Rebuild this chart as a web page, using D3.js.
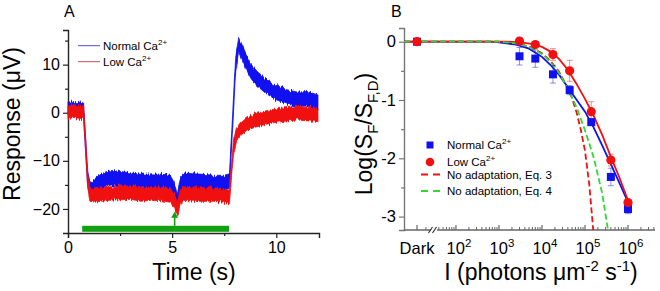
<!DOCTYPE html>
<html>
<head>
<meta charset="utf-8">
<script src="https://cdn.jsdelivr.net/npm/d3@7"></script>
<style>
  body { margin: 0; background: #fff; }
  text { font-family: "Liberation Sans", Arial, sans-serif; fill: #000; }
</style>
</head>
<body>
<svg id="fig" width="660" height="291"></svg>
<script>
// ---- Panel A: ERG traces (time in s, response in uV)
const timeNormal = [0, 0.3, 0.6, 0.75, 0.85, 0.95, 1.05, 1.2, 1.5, 1.8, 2.1, 2.5, 3.0, 3.5, 4.0, 4.5, 4.9, 5.1, 5.25, 5.4, 5.6, 6.0, 6.5, 7.0, 7.5, 7.75, 7.9, 8.05, 8.2, 8.5, 8.8, 9.1, 9.5, 10.0, 10.5, 11.0, 11.5, 12.0];
const respNormal = [0.8, 0.6, 0.7, 0.5, -7, -14, -16, -15.5, -14.5, -13.8, -13.5, -13.7, -14, -14.3, -14.2, -14.3, -14.5, -16, -18.5, -15, -14, -14.2, -14.3, -14.5, -14.5, -14.2, -2, 10, 14, 11, 8.5, 7, 5.5, 4.2, 3.3, 2.8, 2.9, 2.2];
const timeLow = [0, 0.3, 0.6, 0.75, 0.85, 0.95, 1.05, 1.3, 1.6, 2.0, 2.5, 3.0, 3.5, 4.0, 4.5, 4.9, 5.1, 5.25, 5.4, 5.6, 6.0, 6.5, 7.0, 7.5, 7.75, 7.85, 7.95, 8.1, 8.3, 8.6, 9.0, 9.5, 10.0, 10.5, 11.0, 11.5, 12.0];
const respLow = [0, 0.2, 0, 0, -7, -14.5, -17, -17.2, -17, -16.8, -16.7, -16.6, -17, -16.8, -16.9, -17.2, -18.3, -20, -17.5, -16.8, -17, -17, -17, -17.2, -17.5, -12, -7, -4.5, -3.3, -2.2, -1.6, -1, -0.6, -0.3, -0.1, -0.3, -0.4];
const noiseNormal = 1.5;
const noiseLow = 1.4;
const stimOn = 0.68, stimOff = 7.73, flashTime = 5.12;

// ---- Panel B: log(SF/SF,D) vs intensity
const darkI = 12.4; // where "Dark" sits on the log axis
const intensities = [3000, 7000, 1.8e4, 4.4e4, 1.4e5, 4e5, 1e6];
const normalMean = [-0.25, -0.29, -0.56, -0.83, -1.38, -2.32, -2.87];
const normalErr = [0.15, 0.15, 0.15, 0.08, 0.05, 0.15, 0.08];
const lowMean = [0.01, -0.05, -0.22, -0.5, -1.2, -2.03, -2.76];
const lowErr = [0.03, 0.04, 0.1, 0.18, 0.17, 0.1, 0.05];

// fitted curves, [log10 I, value]
const fitNormal = [[0.79, 0], [2.8, 0], [3.0, -0.01], [3.4, -0.05], [3.7, -0.12], [4.0, -0.26], [4.2, -0.4], [4.4, -0.57], [4.6, -0.78], [4.8, -0.99], [5.0, -1.2], [5.2, -1.47], [5.4, -1.78], [5.6, -2.1], [5.8, -2.42], [6.0, -2.75]];
const fitLow = [[0.79, 0], [3.2, 0], [3.5, -0.01], [3.8, -0.04], [4.0, -0.09], [4.2, -0.17], [4.4, -0.3], [4.6, -0.48], [4.8, -0.72], [5.0, -0.98], [5.2, -1.27], [5.4, -1.6], [5.6, -1.97], [5.8, -2.33], [6.0, -2.72]];
const eq3 = [[0.79, 0], [3.0, 0], [3.4, -0.03], [3.7, -0.08], [4.0, -0.2], [4.2, -0.33], [4.4, -0.52], [4.6, -0.8], [4.7, -0.97], [4.8, -1.2], [4.9, -1.5], [5.0, -1.87], [5.1, -2.45], [5.2, -3.3]];
const eq4 = [[0.79, 0], [3.0, 0], [3.4, -0.03], [3.7, -0.09], [4.0, -0.21], [4.2, -0.35], [4.4, -0.54], [4.6, -0.8], [4.8, -1.12], [5.0, -1.52], [5.2, -1.98], [5.4, -2.6], [5.55, -3.3]];

const blue = "#1010f0", red = "#f01010", green = "#30d830";

const svg = d3.select("#fig");

// noise look for the traces (vertical jitter only)
const defs = svg.append("defs");
const filt = defs.append("filter").attr("id", "noisy")
  .attr("color-interpolation-filters", "sRGB")
  .attr("x", "-5%").attr("y", "-10%").attr("width", "110%").attr("height", "120%");
filt.append("feTurbulence").attr("type", "fractalNoise")
  .attr("baseFrequency", "0.7 0.03").attr("numOctaves", 2).attr("seed", 3).attr("result", "t");
filt.append("feColorMatrix").attr("in", "t").attr("type", "matrix")
  .attr("values", "0 0 0 0 0.5  0 1 0 0 0  0 0 1 0 0  0 0 0 0 1").attr("result", "t2");
filt.append("feDisplacementMap").attr("in", "SourceGraphic").attr("in2", "t2")
  .attr("scale", 7).attr("xChannelSelector", "R").attr("yChannelSelector", "G");

function styleAxis(g, size, color) {
  g.attr("font-family", null).attr("font-size", size);
  g.select(".domain").attr("stroke", color).attr("stroke-width", 1.4);
  g.selectAll(".tick line").attr("stroke", color).attr("stroke-width", 1.2);
  g.selectAll(".tick text").attr("fill", "#000");
}

// ================= Panel A =================
const xA = d3.scaleLinear().domain([0, 12.05]).range([68, 319]);
const yA = d3.scaleLinear().domain([-25, 17.2]).range([233, 30]);

const gxA = svg.append("g").attr("transform", "translate(0,233)")
  .call(d3.axisBottom(xA).tickValues([0, 5, 10]).tickSize(5).tickPadding(4).tickFormat(d3.format("d")));
styleAxis(gxA, 16, "#222");
const gxAm = svg.append("g").attr("transform", "translate(0,233)")
  .call(d3.axisBottom(xA).tickValues([2.5, 7.5]).tickSize(3).tickFormat(""));
styleAxis(gxAm, 16, "#222");
gxAm.select(".domain").remove();

const gyA = svg.append("g").attr("transform", "translate(68,0)")
  .call(d3.axisLeft(yA).tickValues([-20, -10, 0, 10]).tickSize(5).tickPadding(3));
styleAxis(gyA, 16, "#222");
const gyAm = svg.append("g").attr("transform", "translate(68,0)")
  .call(d3.axisLeft(yA).tickValues([-15, -5, 5, 15]).tickSize(3).tickFormat(""));
styleAxis(gyAm, 16, "#222");
gyAm.select(".domain").remove();

function band(ts, vs, noise) {
  const pts = ts.map((t, i) => ({ t: t, v: vs[i] }));
  return d3.area().x(d => xA(d.t)).y0(d => yA(d.v - noise)).y1(d => yA(d.v + noise))(pts);
}
svg.append("path").attr("d", band(timeNormal, respNormal, noiseNormal))
  .attr("fill", blue).attr("stroke", blue).attr("stroke-width", 0.8).attr("filter", "url(#noisy)");
svg.append("path").attr("d", band(timeLow, respLow, noiseLow))
  .attr("fill", red).attr("stroke", red).attr("stroke-width", 0.8).attr("filter", "url(#noisy)");

// stimulus bar and flash arrow
svg.append("rect")
  .attr("x", xA(stimOn)).attr("width", xA(stimOff) - xA(stimOn))
  .attr("y", yA(-23.5)).attr("height", yA(-24.75) - yA(-23.5))
  .attr("fill", "#10a010");
svg.append("line")
  .attr("x1", xA(flashTime)).attr("x2", xA(flashTime))
  .attr("y1", yA(-23.5)).attr("y2", yA(-21.4))
  .attr("stroke", "#10a010").attr("stroke-width", 1.6);
svg.append("path")
  .attr("d", `M${xA(flashTime)},${yA(-20.6)} l-3.5,6 l7,0 Z`)
  .attr("fill", "#10a010");

// legend A
const legA = [["Normal Ca", "#5050c8", 45.7], ["Low Ca", "#c85050", 61.7]];
legA.forEach(d => {
  svg.append("line").attr("x1", 78).attr("x2", 100).attr("y1", d[2]).attr("y2", d[2])
    .attr("stroke", d[1]).attr("stroke-width", 1);
  const t = svg.append("text").attr("x", 103).attr("y", d[2] + 4).attr("font-size", 11.5);
  t.append("tspan").text(d[0]);
  t.append("tspan").attr("dy", -5).attr("font-size", 8).text("2+");
});

svg.append("text").attr("x", 64).attr("y", 17).attr("font-size", 16).text("A");
svg.append("text").attr("x", 194).attr("y", 280).attr("text-anchor", "middle")
  .attr("font-size", 23).text("Time (s)");
svg.append("text").attr("transform", "translate(20,124) rotate(-90)")
  .attr("text-anchor", "middle").attr("font-size", 23).text("Response (\u03BCV)");

// ================= Panel B =================
const xB = d3.scaleLog().domain([6.18, 4.25e6]).range([404, 655]);
const yB = d3.scaleLinear().domain([-3.23, 0.235]).range([230, 28]);

defs.append("clipPath").attr("id", "clipB").append("rect")
  .attr("x", 404).attr("y", 28).attr("width", 251).attr("height", 202);

const gyB = svg.append("g").attr("transform", "translate(404,0)")
  .call(d3.axisLeft(yB).tickValues([0, -1, -2, -3]).tickSize(5).tickPadding(3).tickFormat(d => d === 0 ? "0" : "-" + Math.abs(d)));
styleAxis(gyB, 16.5, "#777");
const gyBm = svg.append("g").attr("transform", "translate(404,0)")
  .call(d3.axisLeft(yB).tickValues([-0.5, -1.5, -2.5]).tickSize(3).tickFormat(""));
styleAxis(gyBm, 16, "#777");
gyBm.select(".domain").remove();

// x axis with log ticks, pointing inward
const decades = [2, 3, 4, 5, 6];
const minorB = [];
for (let d = 1; d <= 6; d++) {
  for (let m = 2; m <= 9; m++) {
    const v = m * Math.pow(10, d);
    if (v > 6.18 && v < 4.25e6 && Math.abs(xB(v) - 434) > 4 && Math.abs(xB(v) - xB(darkI)) > 2) minorB.push(v);
  }
}
const gxB = svg.append("g").attr("transform", "translate(0,230)");
gxB.append("line").attr("x1", 404).attr("x2", 655).attr("y1", 0).attr("y2", 0)
  .attr("stroke", "#666").attr("stroke-width", 1.4);
gxB.selectAll("line.maj").data([darkI].concat(decades.map(d => Math.pow(10, d)))).enter()
  .append("line").attr("class", "maj")
  .attr("x1", d => xB(d)).attr("x2", d => xB(d)).attr("y1", 0).attr("y2", -5)
  .attr("stroke", "#666").attr("stroke-width", 1.2);
gxB.selectAll("line.min").data(minorB).enter()
  .append("line").attr("class", "min")
  .attr("x1", d => xB(d)).attr("x2", d => xB(d)).attr("y1", 0).attr("y2", -3)
  .attr("stroke", "#666").attr("stroke-width", 1);
// axis break
gxB.append("rect").attr("x", 431).attr("y", -3).attr("width", 6).attr("height", 6).attr("fill", "#fff");
[430.5, 434.5].forEach(x0 => {
  gxB.append("line").attr("x1", x0 - 2).attr("x2", x0 + 2).attr("y1", 3).attr("y2", -3)
    .attr("stroke", "#333").attr("stroke-width", 1.2);
});
gxB.append("text").attr("x", xB(darkI)).attr("y", 24).attr("text-anchor", "middle")
  .attr("font-size", 16.5).text("Dark");
decades.forEach(d => {
  const t = gxB.append("text").attr("x", xB(Math.pow(10, d)) + 3).attr("y", 24)
    .attr("text-anchor", "middle").attr("font-size", 16.5);
  t.append("tspan").text("10");
  t.append("tspan").attr("dy", -7).attr("font-size", 11.5).text(d);
});

// curves
const lineB = d3.line().x(d => xB(Math.pow(10, d[0]))).y(d => yB(d[1]));
const curves = svg.append("g").attr("clip-path", "url(#clipB)");
curves.append("path").attr("d", lineB(eq3)).attr("fill", "none")
  .attr("stroke", red).attr("stroke-width", 1.8).attr("stroke-dasharray", "6,3");
curves.append("path").attr("d", lineB(fitNormal)).attr("fill", "none")
  .attr("stroke", blue).attr("stroke-width", 1.8);
curves.append("path").attr("d", lineB(fitLow)).attr("fill", "none")
  .attr("stroke", red).attr("stroke-width", 1.8);
curves.append("path").attr("d", lineB(eq4)).attr("fill", "none")
  .attr("stroke", green).attr("stroke-width", 1.8).attr("stroke-dasharray", "6,3");

// error bars
function errBars(means, errs, color) {
  intensities.forEach((I, i) => {
    const x = xB(I), y0 = yB(means[i] - errs[i]), y1 = yB(means[i] + errs[i]);
    const g = svg.append("g").attr("stroke", color).attr("stroke-width", 1);
    g.append("line").attr("x1", x).attr("x2", x).attr("y1", y0).attr("y2", y1);
    g.append("line").attr("x1", x - 3).attr("x2", x + 3).attr("y1", y0).attr("y2", y0);
    g.append("line").attr("x1", x - 3).attr("x2", x + 3).attr("y1", y1).attr("y2", y1);
  });
}
errBars(normalMean, normalErr, "rgba(40,40,220,0.5)");
errBars(lowMean, lowErr, "rgba(230,40,40,0.5)");

// points
const sq = 8;
svg.selectAll("rect.normal").data([[darkI, 0]].concat(intensities.map((I, i) => [I, normalMean[i]]))).enter()
  .append("rect").attr("class", "normal")
  .attr("x", d => xB(d[0]) - sq / 2).attr("y", d => yB(d[1]) - sq / 2)
  .attr("width", sq).attr("height", sq).attr("fill", blue);
svg.selectAll("circle.low").data([[darkI, 0]].concat(intensities.map((I, i) => [I, lowMean[i]]))).enter()
  .append("circle").attr("class", "low")
  .attr("cx", d => xB(d[0])).attr("cy", d => yB(d[1])).attr("r", 4.6).attr("fill", red);

// legend B
const legB = svg.append("g").attr("font-size", 11.5);
legB.append("rect").attr("x", 426.5).attr("y", 141.5).attr("width", 7).attr("height", 7).attr("fill", blue);
legB.append("circle").attr("cx", 430).attr("cy", 162).attr("r", 4.3).attr("fill", red);
legB.append("line").attr("x1", 421).attr("x2", 443).attr("y1", 174.5).attr("y2", 174.5)
  .attr("stroke", red).attr("stroke-width", 1.8).attr("stroke-dasharray", "7,5");
legB.append("line").attr("x1", 421).attr("x2", 443).attr("y1", 191).attr("y2", 191)
  .attr("stroke", green).attr("stroke-width", 1.8).attr("stroke-dasharray", "7,5");
[["Normal Ca", 149, true], ["Low Ca", 166, true], ["No adaptation, Eq. 3", 178.5, false], ["No adaptation, Eq. 4", 195, false]].forEach(d => {
  const t = legB.append("text").attr("x", 447).attr("y", d[1]);
  t.append("tspan").text(d[0]);
  if (d[2]) t.append("tspan").attr("dy", -5).attr("font-size", 8).text("2+");
});

svg.append("text").attr("x", 391).attr("y", 17).attr("font-size", 16).text("B");

// axis titles
const xtB = svg.append("text").attr("x", 541).attr("y", 280).attr("text-anchor", "middle").attr("font-size", 23);
xtB.append("tspan").text("I (photons \u03BCm");
xtB.append("tspan").attr("dy", -9).attr("font-size", 15).text("-2");
xtB.append("tspan").attr("dy", 9).text(" s");
xtB.append("tspan").attr("dy", -9).attr("font-size", 15).text("-1");
xtB.append("tspan").attr("dy", 9).text(")");

const ytB = svg.append("text").attr("transform", "translate(372,134) rotate(-90)")
  .attr("text-anchor", "middle").attr("font-size", 23);
ytB.append("tspan").text("Log(S");
ytB.append("tspan").attr("dy", 6).attr("font-size", 15).text("F");
ytB.append("tspan").attr("dy", -6).text("/S");
ytB.append("tspan").attr("dy", 6).attr("font-size", 15).text("F,D");
ytB.append("tspan").attr("dy", -6).text(")");
</script>
</body>
</html>
